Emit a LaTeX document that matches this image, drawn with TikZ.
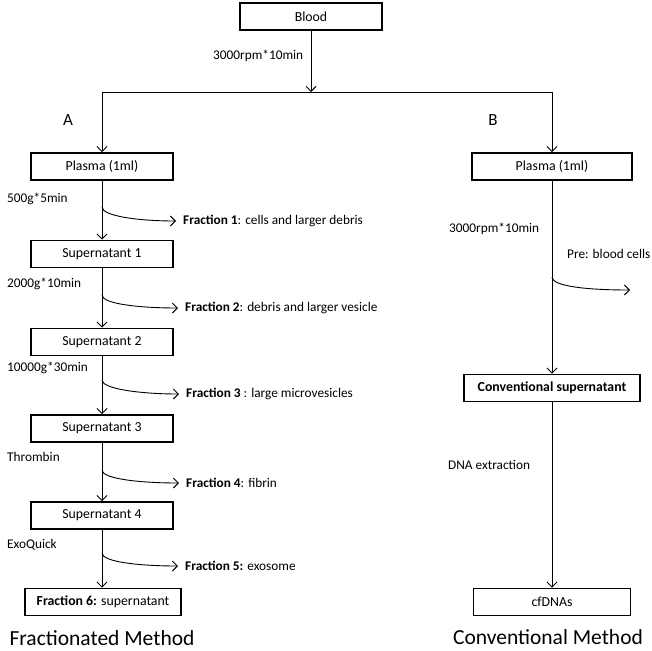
\documentclass[tikz,border=0pt]{standalone}
\usepackage{fontspec}
\setmainfont{Carlito}
\usetikzlibrary{arrows.meta}
\tikzset{
    box/.style={draw, line width=1.8pt, minimum height=27pt, inner sep=2pt, font=\fontsize{13.8}{16}\selectfont},
    lbl/.style={anchor=west, inner sep=0pt, font=\fontsize{13.3}{16}\selectfont},
    flow/.style={line width=0.9pt, -{Straight Barb[length=5pt,width=10pt]}},
    branch/.style={flow, shorten >=7pt},
    title/.style={inner sep=0pt, font=\fontsize{21.5}{25}\selectfont}
}
\begin{document}
\begin{tikzpicture}[x=1pt,y=-1pt]
        \useasboundingbox (0,0) rectangle (652,650);

        % Intestazione
        \node[box, minimum width=142pt] (blood) at (311,16.5) {Blood};
        \node[lbl] (spin0) at (213,56) {3000rpm*10min};
        \coordinate (split) at (311,92);
        \coordinate (splitA) at (102,92);
        \coordinate (splitB) at (552,92);
        \draw[flow] (blood) -- (split);
        \draw[line width=0.9pt] (splitA) -- (splitB);
        \node[font=\fontsize{17}{20}\selectfont] (labA) at (68,120) {A};
        \node[font=\fontsize{17}{20}\selectfont] (labB) at (493,120) {B};

        % Metodo A
        \node[box, minimum width=142pt] (plasmaA) at (102,166.5) {Plasma (1ml)};
        \node[box, minimum width=142pt] (sup1) at (102,254) {Supernatant 1};
        \node[box, minimum width=142pt] (sup2) at (102,342) {Supernatant 2};
        \node[box, minimum width=142pt] (sup3) at (102,428.5) {Supernatant 3};
        \node[box, minimum width=142pt] (sup4) at (102,515.5) {Supernatant 4};
        \node[box, minimum width=156pt] (frac6) at (103,602) {\textbf{Fraction 6:} supernatant};

        \node[lbl] (spin1) at (7,199) {500g*5min};
        \node[lbl] (spin2) at (7,284) {2000g*10min};
        \node[lbl] (spin3) at (7,368) {10000g*30min};
        \node[lbl] (spin4) at (7,457) {Thrombin};
        \node[lbl] (spin5) at (7,545) {ExoQuick};

        \node[lbl] (fr1) at (183,221) {\textbf{Fraction 1}: cells and larger debris};
        \node[lbl] (fr2) at (185,308) {\textbf{Fraction 2}: debris and larger vesicle};
        \node[lbl] (fr3) at (186,394) {\textbf{Fraction 3} : large microvesicles};
        \node[lbl] (fr4) at (186,483) {\textbf{Fraction 4}: fibrin};
        \node[lbl] (fr5) at (185,566) {\textbf{Fraction 5:} exosome};

        \coordinate (b1) at (102,207);
        \coordinate (b2) at (102,295);
        \coordinate (b3) at (102,380);
        \coordinate (b4) at (102,470);
        \coordinate (b5) at (102,553);

        \draw[flow] (splitA) -- (plasmaA);
        \draw[flow] (plasmaA) -- (sup1);
        \draw[flow] (sup1) -- (sup2);
        \draw[flow] (sup2) -- (sup3);
        \draw[flow] (sup3) -- (sup4);
        \draw[flow] (sup4) -- (sup4 |- frac6.north);

        \draw[branch] (b1) .. controls +(0,9) and +(-45,0) .. (fr1.west);
        \draw[branch] (b2) .. controls +(0,9) and +(-45,0) .. (fr2.west);
        \draw[branch] (b3) .. controls +(0,9) and +(-45,0) .. (fr3.west);
        \draw[branch] (b4) .. controls +(0,9) and +(-45,0) .. (fr4.west);
        \draw[branch] (b5) .. controls +(0,9) and +(-45,0) .. (fr5.west);

        % Metodo B
        \node[box, minimum width=160pt] (plasmaB) at (552,166.5) {Plasma (1ml)};
        \node[box, minimum width=176pt] (convsup) at (552,388) {\textbf{Conventional supernatant}};
        \node[box, minimum width=157pt] (cfdna) at (552,602) {cfDNAs};

        \node[lbl] (spinB) at (449,229) {3000rpm*10min};
        \node[lbl] (pre) at (567,254) {Pre: blood cells};
        \node[lbl] (extr) at (448,465) {DNA extraction};

        \coordinate (bB) at (552,277);
        \coordinate (preEnd) at (630,290);

        \draw[flow] (splitB) -- (plasmaB);
        \draw[flow] (plasmaB) -- (convsup);
        \draw[flow] (convsup) -- (cfdna);
        \draw[flow] (bB) .. controls +(0,9) and +(-45,0) .. (preEnd);

        % Titoli
        \node[title] (titA) at (102,638) {Fractionated Method};
        \node[title] (titB) at (548,637) {Conventional Method};
\end{tikzpicture}
\end{document}
